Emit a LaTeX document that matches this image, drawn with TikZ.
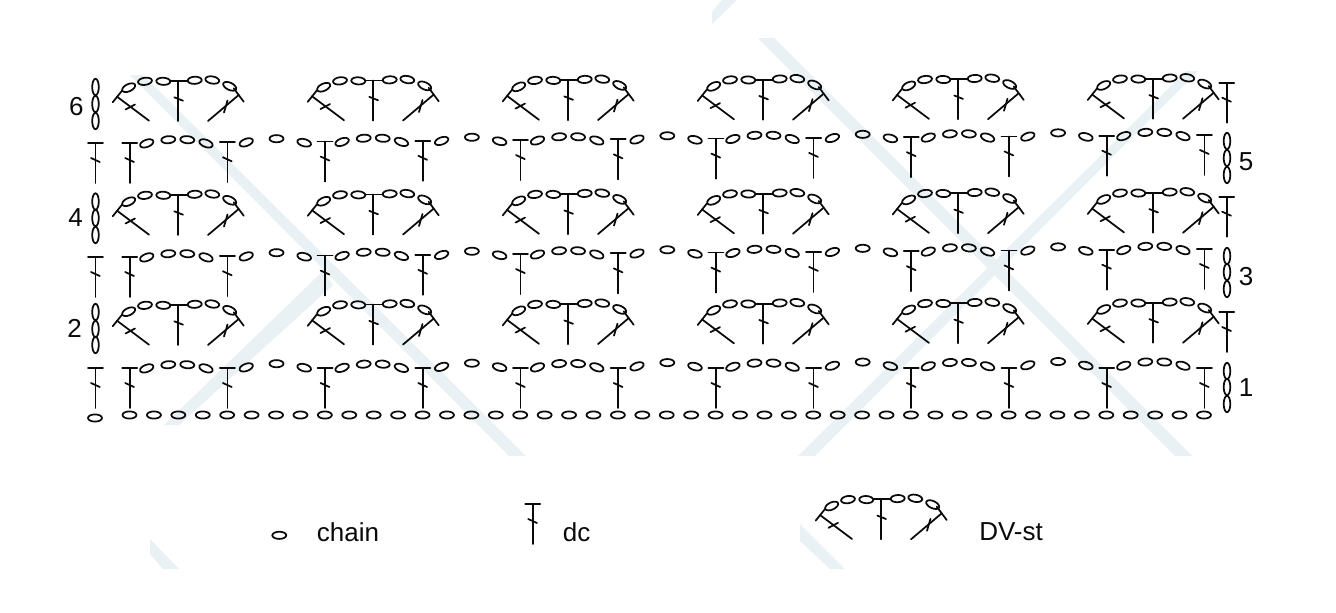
\documentclass[tikz,border=0pt]{standalone}
\usepackage{fontspec}
\setmainfont{Liberation Sans}
\definecolor{hilo}{HTML}{0A0A0A}
\definecolor{marca}{HTML}{E9F1F5}
\tikzset{
  trazo/.style={line width=1.3pt, draw=hilo, line cap=round},
  marcaagua/.style={fill=marca, draw=none},
  rotulo/.style={anchor=base, inner sep=0pt, text=hilo, font=\fontsize{19.5}{22}\selectfont},
  cadeneta/.pic={\draw[trazo] (0,0) ellipse (7 and 3.6);},
  cadenetav/.pic={\draw[trazo] (0,0) ellipse (3.3 and 8.2);},
  varetal/.pic={
    \draw[trazo] (-7.5,0) -- (7.5,0);
    \draw[trazo] (0,0) -- (0,40);
    \draw[trazo] (-4.5,15) -- (4.3,19);
  },
  abanico/.pic={
    % los seis puntos de cadeneta del arco
    \foreach \dx/\dy/\giro in {-49.3/6.7/25, -33/.3/8, -14.7/.3/-3, 16.7/-.7/3, 34.3/-1/-10, 51.7/5.3/-25}
      \pic[rotate=\giro] at (\dx,\dy) {cadeneta};
    \draw[trazo] (-8,0) -- (10,0);
    \draw[trazo] (0,0) -- (0,40);
    \draw[trazo] (-3.7,16.3) -- (5,19.7);
    \draw[trazo] (-29,39.7) -- (-61,15.7);
    \draw[trazo] (-65.3,21.3) -- (-56,9.7);
    \draw[trazo] (-52.5,28.5) -- (-43,23.5);
    \draw[trazo] (30,40) -- (60.7,14);
    \draw[trazo] (55.7,7.3) -- (65.7,20.7);
    \draw[trazo] (49.5,19.5) -- (46,31.5);
  }
}
\begin{document}
\begin{tikzpicture}[x=0.75pt, y=-0.75pt]
  \path[use as bounding box, fill=white] (0,0) rectangle (1336,612);

  % marca de agua
  \fill[marcaagua] (130,75) -- (143,75) -- (526,456) -- (509,456) -- cycle;
  \fill[marcaagua] (164,425) -- (179,425) -- (333,285) -- (323,271) -- cycle;
  \fill[marcaagua] (758,38) -- (774,38) -- (1192,456) -- (1175,456) -- cycle;
  \fill[marcaagua] (1186,71) -- (1198,71) -- (815,456) -- (798,456) -- cycle;
  \fill[marcaagua] (722,0) -- (737,0) -- (712,24) -- (712,12) -- cycle;
  \fill[marcaagua] (150,539) -- (179,569) -- (163,569) -- (150,554) -- cycle;
  \fill[marcaagua] (800,524) -- (845,569) -- (830,569) -- (800,541) -- cycle;

  % cadeneta base
  \pic at (95,418) {cadeneta};
  \foreach \i in {0,...,44}
    \pic at (129.5+24.42*\i,415) {cadeneta};

  % vueltas impares
  \foreach \yv/\tv/\ta in {143/.73/.73, 257/.73/.73, 368/0/.27} {
    \pic at (95.5,\yv) {varetal};
    \foreach \k in {0,...,5} {
      \pgfmathsetmacro{\xa}{129.7+195.4*\k}
      \pgfmathsetmacro{\xb}{\xa+97.7}
      \pgfmathsetmacro{\ya}{\yv-\tv*2*\k}
      \pgfmathsetmacro{\yb}{\yv-\tv*(2*\k+1)}
      \pgfmathsetmacro{\yc}{\yv-\ta*2*\k}
      \pic at (\xa,\ya) {varetal};
      \pic at (\xb,\yb) {varetal};
      \foreach \dx/\dy/\giro in {17/.4/20, 38.6/-3.3/5, 57.6/-3.3/-5, 76.3/.4/-20}
        \pic[rotate=\giro] at (\xa+\dx,\yc+\dy) {cadeneta};
    }
    \foreach \k in {0,...,4} {
      \pgfmathsetmacro{\xa}{129.7+195.4*\k}
      \pgfmathsetmacro{\yc}{\yv-\ta*2*\k}
      \foreach \dx/\dy/\giro in {116.5/-.6/20, 146.8/-4.3/0, 174.5/-.3/-15}
        \pic[rotate=\giro] at (\xa+\dx,\yc+\dy) {cadeneta};
    }
  }

  % vueltas pares
  \foreach \yv in {81,195,305} {
    \foreach \k in {0,...,5}
      \pic at (178+195*\k,\yv-.45*\k) {abanico};
  }
  \pic at (1226.7,82.7) {varetal};
  \pic at (1226.7,196.7) {varetal};
  \pic at (1226.7,312) {varetal};

  % cadenetas de giro
  \foreach \yv in {87,104,121, 201.5,218,235, 312,329,345}
    \pic at (95.5,\yv) {cadenetav};
  \foreach \yv in {141,158,175, 256,272,289, 371,387,404}
    \pic at (1227,\yv) {cadenetav};

  % numeros de vuelta
  \node (v6) [rotulo] at (76.3,115) {6};
  \node (v4) [rotulo] at (75.5,226.7) {4};
  \node (v2) [rotulo] at (74.5,337) {2};
  \node (v5) [rotulo] at (1246,170) {5};
  \node (v3) [rotulo] at (1246,285.7) {3};
  \node (v1) [rotulo] at (1246,396.7) {1};

  % leyenda
  \pic at (279.3,535.3) {cadeneta};
  \node (leycad) [rotulo, anchor=base west] at (316.7,541) {chain};
  \pic at (532.7,504) {varetal};
  \node (leydc) [rotulo, anchor=base west] at (562.7,541) {dc};
  \pic at (881,499.3) {abanico};
  \node (leydv) [rotulo, anchor=base west] at (979,540) {DV-st};
\end{tikzpicture}
\end{document}
